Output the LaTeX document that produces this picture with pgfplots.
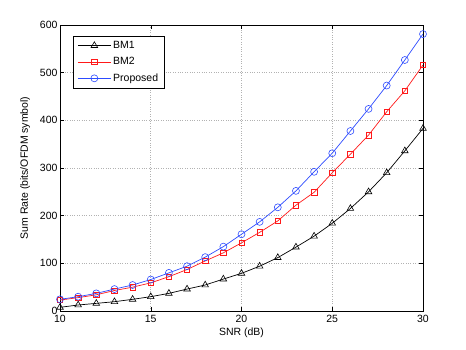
\documentclass[border=0pt]{standalone}
\usepackage{pgfplots}
\pgfplotsset{compat=1.18}
\usepackage{fontspec}
\setmainfont{Liberation Sans}
\definecolor{mblue}{RGB}{45,75,255}
\definecolor{mred}{RGB}{255,25,25}
\begin{document}
\begin{tikzpicture}
\path[use as bounding box] (0pt,0pt) rectangle (466pt,350pt);
\begin{axis}[
  at={(60pt,39pt)}, anchor=south west,
  scale only axis, width=363pt, height=286pt,
  xmin=10, xmax=30, ymin=0, ymax=600,
  xtick={10,15,20,25,30}, ytick={0,100,200,300,400,500,600},
  tick align=inside, tick pos=both,
  major tick length=4pt,
  grid=major, grid style={gray!60, dotted, line width=0.6pt},
  axis line style={line width=0.6pt},
  every tick/.style={black, line width=0.5pt},
  tick label style={font=\fontsize{10.5}{12}\selectfont},
  xticklabel style={yshift=-1pt},
  yticklabel style={xshift=1pt},
  /pgf/number format/assume math mode=true,
  xlabel={SNR (dB)}, ylabel={Sum Rate (bits/OFDM symbol)},
  label style={font=\fontsize{10.5}{12}\selectfont},
  xlabel style={yshift=2pt},
  ylabel style={yshift=3pt},
  legend style={at={(axis cs:10.73,577)}, anchor=north west, font=\fontsize{10.5}{12}\selectfont, draw=black, line width=0.5pt, inner xsep=4pt, inner ysep=3pt, row sep=3.5pt, cells={anchor=west}},
  legend image code/.code={\draw[#1] (0pt,0pt) -- (33pt,0pt); \draw[#1, mark repeat=1] plot coordinates {(16.5pt,0pt)};},
  legend cell align=left,
]
\addplot[black, line width=0.7pt, mark=triangle, mark size=3.8pt, mark options={solid, line width=0.6pt}] coordinates {
(10,7.7)(11,12.6)(12,16)(13,19.5)(14,24.5)(15,30)(16,37)(17,46)(18,54.5)(19,67)(20,79)
(21,94)(22,112)(23,134)(24,157)(25,184)(26,215)(27,250)(28,290)(29,336)(30,383)};
\addlegendentry{BM1}
\addplot[mred, line width=0.7pt, mark=square, mark size=2.7pt, mark options={solid, line width=0.6pt}] coordinates {
(10,23)(11,28)(12,34)(13,43)(14,50)(15,59)(16,72)(17,87)(18,105)(19,122)(20,143)
(21,165)(22,189)(23,222)(24,249)(25,290)(26,329)(27,369)(28,418)(29,462)(30,516)};
\addlegendentry{BM2}
\addplot[mblue, line width=0.7pt, mark=o, mark size=3.5pt, mark options={solid, line width=0.6pt}] coordinates {
(10,24.5)(11,30)(12,37)(13,46)(14,54.5)(15,66)(16,80)(17,94)(18,113)(19,135)(20,161)
(21,187)(22,217.5)(23,252)(24,292)(25,331)(26,377.6)(27,424)(28,473)(29,526.6)(30,581)};
\addlegendentry{Proposed}
\end{axis}
\end{tikzpicture}
\end{document}
